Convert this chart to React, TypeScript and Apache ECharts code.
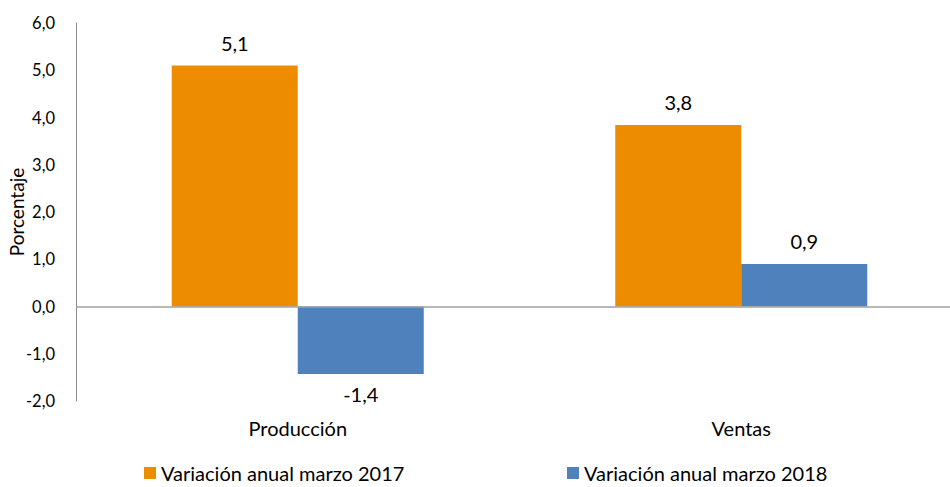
import React, { useEffect, useRef } from "react";
import * as echarts from "echarts";

const categories = ["Producción", "Ventas"];
const series2017 = [5.1, 3.84];
const series2018 = [-1.43, 0.9];
const seriesNames = ["Variación anual marzo 2017", "Variación anual marzo 2018"];
const yTicks = { min: -2, max: 6, interval: 1 };

const FONT = "Lato";
const fmt = (v: number) => v.toFixed(1).replace(".", ",");

export default function App() {
  const ref = useRef<HTMLDivElement>(null);
  useEffect(() => {
    document.body.style.margin = "0";
    document.body.style.overflow = "hidden";
    if (!ref.current) return;
    const chart = echarts.init(ref.current, undefined, { renderer: "svg" });
    const mk = (vals: number[]) =>
      vals.map((v) => ({
        value: v,
        label: { position: v < 0 ? "bottom" : "top", distance: v < 0 ? 10 : 13 },
      }));
    const legendText = { fontFamily: FONT, fontSize: 20, color: "#000" };
    const barLabel = {
      show: true,
      fontFamily: FONT,
      fontSize: 20,
      color: "#000",
      formatter: (p: any) => fmt(p.value),
    };
    chart.setOption({
      animation: false,
      textStyle: { fontFamily: FONT },
      grid: {
        left: 76,
        right: 0,
        top: 23,
        height: 378,
        containLabel: false,
        outerBoundsMode: "none",
      },
      legend: [
        {
          data: [seriesNames[0]],
          left: 139,
          top: 458,
          itemWidth: 12,
          itemHeight: 12,
          itemGap: 5,
          icon: "rect",
          textStyle: legendText,
        },
        {
          data: [seriesNames[1]],
          left: 562,
          top: 458,
          itemWidth: 12,
          itemHeight: 12,
          icon: "rect",
          textStyle: legendText,
        },
      ],
      xAxis: {
        type: "category",
        data: categories,
        axisLine: { show: false, onZero: false },
        axisTick: { show: false },
        axisLabel: { fontFamily: FONT, fontSize: 20, color: "#000", margin: 17 },
      },
      yAxis: {
        type: "value",
        min: yTicks.min,
        max: yTicks.max,
        interval: yTicks.interval,
        name: "Porcentaje",
        nameLocation: "middle",
        nameGap: 50,
        nameMoveOverlap: false,
        nameTextStyle: { fontFamily: FONT, fontSize: 19, color: "#000" },
        axisLine: { show: true, lineStyle: { color: "#8c8c8c", width: 1 } },
        axisTick: { show: false },
        splitLine: { show: false },
        axisLabel: {
          fontFamily: FONT,
          fontSize: 16.5,
          color: "#000",
          margin: 21,
          formatter: (v: number) => fmt(v),
        },
      },
      series: [
        {
          name: seriesNames[0],
          type: "bar",
          data: mk(series2017),
          barWidth: 126,
          barGap: "0%",
          itemStyle: { color: "#EE8C00" },
          label: barLabel,
          markLine: {
            silent: true,
            symbol: "none",
            label: { show: false },
            lineStyle: { color: "#a0a0a0", width: 1.5, type: "solid" },
            data: [{ yAxis: 0 }],
          },
        },
        {
          name: seriesNames[1],
          type: "bar",
          data: mk(series2018),
          barWidth: 126,
          barGap: "0%",
          itemStyle: { color: "#4F81BD" },
          label: barLabel,
        },
      ],
    });
    return () => chart.dispose();
  }, []);
  return <div ref={ref} style={{ width: 963, height: 487 }} />;
}
